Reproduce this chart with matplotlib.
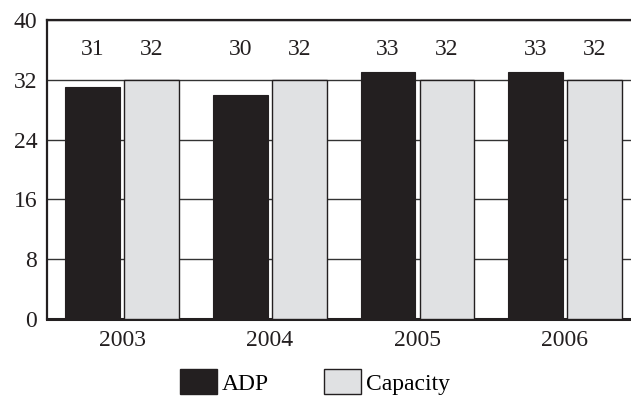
import matplotlib
matplotlib.use("Agg")
import matplotlib.pyplot as plt
import numpy as np
from matplotlib.patches import Patch

years = ["2003", "2004", "2005", "2006"]
adp = [31, 30, 33, 33]
capacity = [32, 32, 32, 32]
yticks = [0, 8, 16, 24, 32, 40]

plt.rcParams['font.family'] = ['Liberation Serif', 'DejaVu Serif']

fig = plt.figure(figsize=(6.31, 3.98), dpi=100)
ax = fig.add_axes([47/631, 1 - 319/398, 1 - 47/631 + 0.01, (319 - 20)/398])

x = np.arange(len(years))
w = 0.37
black = "#231f20"
gray = "#e0e1e3"
ax.bar(x - 0.2, adp, w, color=black, edgecolor=black, linewidth=0.8, zorder=3)
ax.bar(x + 0.2, capacity, w, color=gray, edgecolor=black, linewidth=1.0, zorder=3)

fs = 17
for xi, a, c in zip(x, adp, capacity):
    ax.text(xi - 0.2, 36, str(a), ha="center", va="center", fontsize=fs, color=black)
    ax.text(xi + 0.2, 36, str(c), ha="center", va="center", fontsize=fs, color=black)

ax.set_ylim(0, 40)
ax.set_xlim(-0.51, 3.49)
ax.set_yticks(yticks)
ax.set_yticklabels([str(t) for t in yticks], fontsize=fs, color=black)
ax.set_xticks(x)
ax.set_xticklabels(years, fontsize=fs, color=black)
ax.tick_params(axis="y", length=0, pad=7)
ax.tick_params(axis="x", length=0, pad=8)
ax.yaxis.grid(True, color="#333333", linewidth=1.0, zorder=0)
ax.set_axisbelow(True)
for s in ["left", "top"]:
    ax.spines[s].set_linewidth(1.6)
    ax.spines[s].set_color(black)
ax.spines["bottom"].set_linewidth(2.2)
ax.spines["bottom"].set_color(black)
ax.spines["right"].set_visible(False)

handles = [Patch(facecolor=black, edgecolor=black, label="ADP"),
           Patch(facecolor=gray, edgecolor=black, label="Capacity")]
fig.legend(handles=handles, loc="center", bbox_to_anchor=(0.499, 1 - 382/398), ncol=2,
           frameon=False, fontsize=fs, handlelength=1.6, handleheight=1.25,
           handletextpad=0.2, columnspacing=2.3)

fig.savefig("out.png", dpi=100)
